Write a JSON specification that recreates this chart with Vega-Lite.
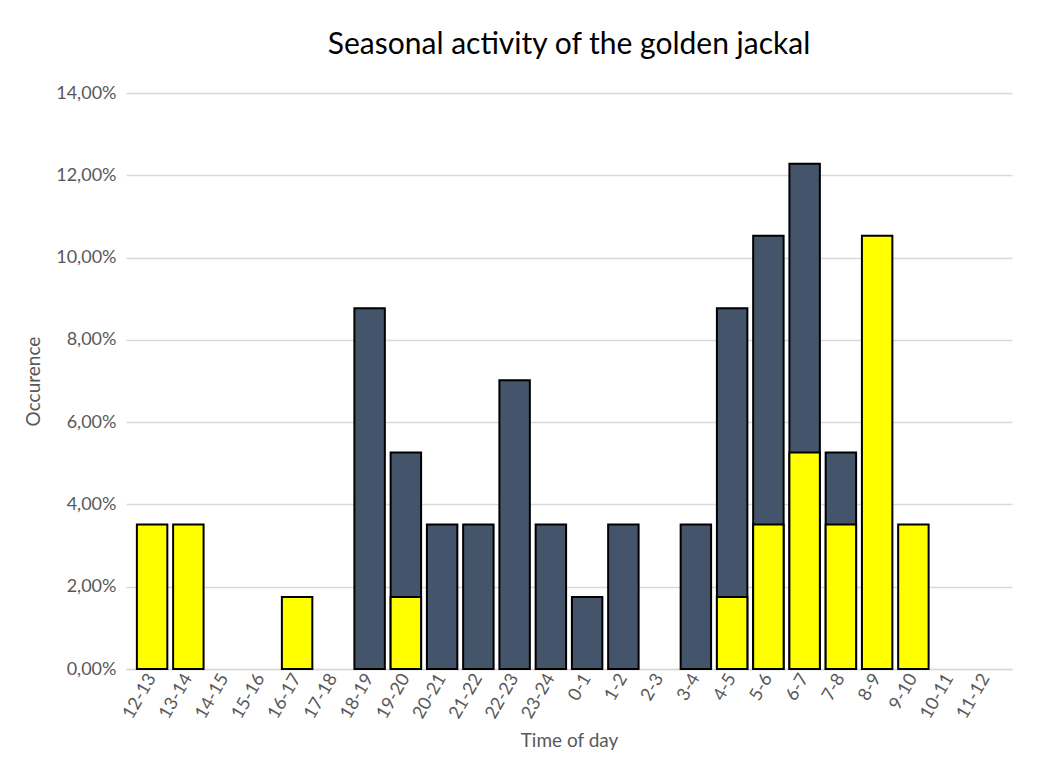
{
  "$schema": "https://vega.github.io/schema/vega-lite/v6.json",
  "autosize": {"type": "fit", "contains": "padding"},
  "width": 1052,
  "height": 767,
  "padding": {"left": 24, "right": 40, "top": 30, "bottom": 16},
  "background": "#ffffff",
  "title": {
    "text": "Seasonal activity of the golden jackal",
    "fontSize": 30,
    "font": "Lato",
    "fontWeight": "normal",
    "color": "#000000",
    "anchor": "middle",
    "offset": 24
  },
  "data": {
    "values": [
      {"time": "12-13", "series": "Summer", "share": 0.0351},
      {"time": "13-14", "series": "Summer", "share": 0.0351},
      {"time": "16-17", "series": "Summer", "share": 0.0175},
      {"time": "18-19", "series": "Winter", "share": 0.0877},
      {"time": "19-20", "series": "Winter", "share": 0.0526},
      {"time": "19-20", "series": "Summer", "share": 0.0175},
      {"time": "20-21", "series": "Winter", "share": 0.0351},
      {"time": "21-22", "series": "Winter", "share": 0.0351},
      {"time": "22-23", "series": "Winter", "share": 0.0702},
      {"time": "23-24", "series": "Winter", "share": 0.0351},
      {"time": "0-1", "series": "Winter", "share": 0.0175},
      {"time": "1-2", "series": "Winter", "share": 0.0351},
      {"time": "3-4", "series": "Winter", "share": 0.0351},
      {"time": "4-5", "series": "Winter", "share": 0.0877},
      {"time": "4-5", "series": "Summer", "share": 0.0175},
      {"time": "5-6", "series": "Winter", "share": 0.1053},
      {"time": "5-6", "series": "Summer", "share": 0.0351},
      {"time": "6-7", "series": "Winter", "share": 0.1228},
      {"time": "6-7", "series": "Summer", "share": 0.0526},
      {"time": "7-8", "series": "Winter", "share": 0.0526},
      {"time": "7-8", "series": "Summer", "share": 0.0351},
      {"time": "8-9", "series": "Summer", "share": 0.1053},
      {"time": "9-10", "series": "Summer", "share": 0.0351}
    ]
  },
  "encoding": {
    "x": {
      "field": "time",
      "type": "nominal",
      "scale": {
        "domain": ["12-13","13-14","14-15","15-16","16-17","17-18","18-19","19-20","20-21","21-22","22-23","23-24","0-1","1-2","2-3","3-4","4-5","5-6","6-7","7-8","8-9","9-10","10-11","11-12"],
        "paddingInner": 0.16,
        "paddingOuter": 0.3
      },
      "axis": {
        "title": "Time of day",
        "titleFont": "Lato",
        "titleFontSize": 19,
        "titleFontWeight": "normal",
        "titleColor": "#595959",
        "titlePadding": 10,
        "labelAngle": -60,
        "labelFont": "Lato",
        "labelFontSize": 18,
        "labelColor": "#595959",
        "labelPadding": 6,
        "ticks": false,
        "domainColor": "#d9d9d9",
        "domainWidth": 1.5,
        "grid": false
      }
    },
    "y": {
      "field": "share",
      "type": "quantitative",
      "stack": null,
      "scale": {"domain": [0, 0.14], "nice": false},
      "axis": {
        "title": "Occurence",
        "titleFont": "Lato",
        "titleFontSize": 19,
        "titleFontWeight": "normal",
        "titleColor": "#595959",
        "titlePadding": 12,
        "format": ".2%",
        "values": [0, 0.02, 0.04, 0.06, 0.08, 0.1, 0.12, 0.14],
        "labelFont": "Lato",
        "labelFontSize": 18,
        "labelColor": "#595959",
        "labelPadding": 10,
        "ticks": false,
        "domain": false,
        "grid": true,
        "gridColor": "#d9d9d9",
        "gridWidth": 1.5
      }
    }
  },
  "layer": [
    {
      "transform": [{"filter": "datum.series === 'Winter'"}],
      "mark": {"type": "bar", "color": "#44546a", "stroke": "#000000", "strokeWidth": 2}
    },
    {
      "transform": [{"filter": "datum.series === 'Summer'"}],
      "mark": {"type": "bar", "color": "#ffff00", "stroke": "#000000", "strokeWidth": 2}
    }
  ],
  "config": {
    "locale": {
      "number": {"decimal": ",", "thousands": ".", "grouping": [3], "currency": ["", " €"]}
    },
    "view": {"stroke": null}
  }
}
